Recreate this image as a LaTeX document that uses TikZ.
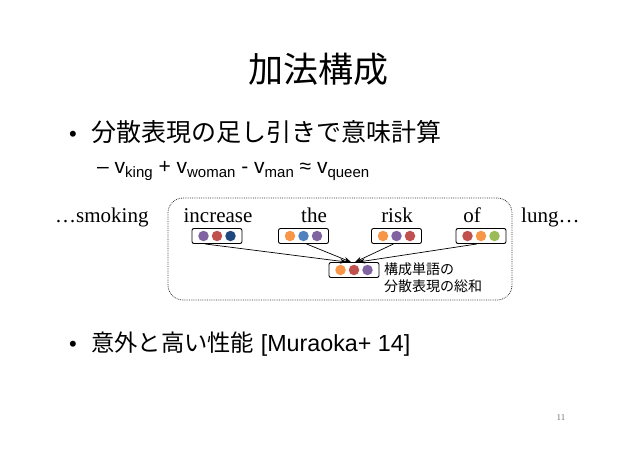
\documentclass[tikz,border=0pt]{standalone}
\usepackage{fontspec}
\setmainfont{Liberation Sans}
\newfontfamily\jp{Noto Sans CJK JP}
\newfontfamily\tms{Liberation Serif}
\usetikzlibrary{arrows.meta}
\definecolor{cpurple}{HTML}{8064A2}
\definecolor{cred}{HTML}{C0504D}
\definecolor{cnavy}{HTML}{1F497D}
\definecolor{corange}{HTML}{F79646}
\definecolor{cblue}{HTML}{4F81BD}
\definecolor{cgreen}{HTML}{9BBB59}
\newcommand{\sbs}[1]{\raisebox{-0.2em}{\fontsize{15}{16}\selectfont #1}}
\tikzset{
  vbox/.style={draw=black, line width=0.9pt, rounded corners=2pt, minimum width=50pt, minimum height=15pt, inner sep=0pt},
  dot/.style={circle, fill=#1, minimum size=10.5pt, inner sep=0pt},
  word/.style={anchor=base, inner sep=0pt, font=\tms\fontsize{21}{24}\selectfont},
  arr/.style={-{Stealth[length=7pt,width=5pt]}, line width=0.7pt},
  region/.style={draw=black!80, densely dotted, line width=0.8pt, rounded corners=15pt}
}
\newcommand{\vecbox}[5]{%
  \node[vbox] (#1) at (#2) {};
  \node[dot=#3] (#1a) at ([xshift=-13.5pt]#1.center) {};
  \node[dot=#4] (#1b) at (#1.center) {};
  \node[dot=#5] (#1c) at ([xshift=13.5pt]#1.center) {};
}
\begin{document}
\begin{tikzpicture}[x=1pt,y=-1pt]
\useasboundingbox (0,0) rectangle (638,451);
% title
\node[anchor=base, inner sep=0pt, font=\jp\fontsize{35}{40}\selectfont] (title) at (318,82) {加法構成};
% bullet 1
\node[anchor=base west, inner sep=0pt, font=\fontsize{22}{24}\selectfont] (b1) at (69,141) {•};
\node[anchor=base west, inner sep=0pt, font=\jp\fontsize{25}{28}\selectfont] (t1) at (91,141) {分散表現の足し引きで意味計算};
% sub bullet
\node[anchor=base west, inner sep=0pt, font=\fontsize{21}{24}\selectfont] (t2) at (97,173)
  {– v\sbs{king} + v\sbs{woman} - v\sbs{man} ≈ v\sbs{queen}};
% region
\node[region, minimum width=344pt, minimum height=102pt, inner sep=0pt] (reg) at (340,249) {};
% words
\node[word, anchor=base west] (w0) at (55,222) {…smoking};
\node[word] (w1) at (218,222) {increase};
\node[word] (w2) at (314,222) {the};
\node[word] (w3) at (397,222) {risk};
\node[word] (w4) at (472,222) {of};
\node[word, anchor=base west] (w5) at (521,222) {lung…};
% vectors
\vecbox{v1}{217,236}{cpurple}{cred}{cnavy}
\vecbox{v2}{303.5,236}{corange}{cblue}{cpurple}
\vecbox{v3}{396.5,236}{corange}{cpurple}{cred}
\vecbox{v4}{481,236}{cred}{corange}{cgreen}
\vecbox{vs}{354,270}{corange}{cred}{cpurple}
% arrows
\draw[arr] ([xshift=-12pt]v1.south) -- ([xshift=-7pt]vs.north);
\draw[arr] ([xshift=3pt]v2.south) -- ([xshift=-3pt]vs.north);
\draw[arr] ([xshift=-3pt]v3.south) -- ([xshift=1pt]vs.north);
\draw[arr] ([xshift=-4pt]v4.south) -- ([xshift=4pt]vs.north);
% label
\node[anchor=west, inner sep=0pt, align=left, font=\jp\fontsize{14}{17}\selectfont] (lab) at (384,277.5) {構成単語の\\分散表現の総和};
% bullet 2
\node[anchor=base west, inner sep=0pt, font=\fontsize{22}{24}\selectfont] (b2) at (69,351) {•};
\node[anchor=base west, inner sep=0pt, font=\fontsize{23.3}{26}\selectfont] (t3) at (91,351) {{\jp 意外と高い性能} [Muraoka+ 14]};
% page number
\node[anchor=center, inner sep=0pt, text=black!55, font=\tms\fontsize{9}{10}\selectfont] (pg) at (561,418) {11};
\end{tikzpicture}
\end{document}
